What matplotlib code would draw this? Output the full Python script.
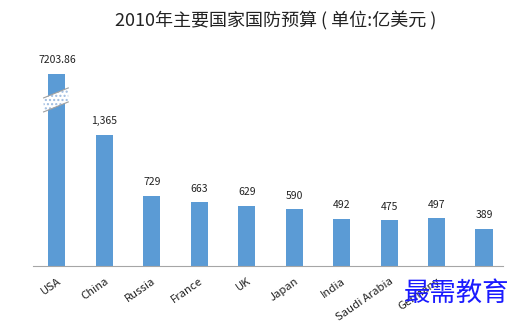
import matplotlib
matplotlib.use("Agg")
import matplotlib.pyplot as plt
from matplotlib.patches import Polygon

plt.rcParams['font.family'] = ['Noto Sans CJK SC', 'DejaVu Sans']

countries = ["USA", "China", "Russia", "France", "UK", "Japan", "India", "Saudi Arabia", "Germany", ""]
values = [7203.86, 1365, 729, 663, 629, 590, 492, 475, 497, 389]
labels = ["7203.86", "1,365", "729", "663", "629", "590", "492", "475", "497", "389"]
display_cap = 2000  # USA bar is drawn broken at this height

fig = plt.figure(figsize=(5.30, 3.26), dpi=100)
ax = fig.add_axes([0.062, 0.184, 0.887, 0.663])

heights = [min(v, display_cap) for v in values]
x = list(range(len(values)))
bars = ax.bar(x, heights, width=0.36, color="#5b9bd5", zorder=2)

for xi, h, lab in zip(x, heights, labels):
    ax.text(xi, h + 90, lab, ha="center", va="bottom", fontsize=7.5, color="#222222")

# break mark on the USA bar
b = bars[0]
x0, w = b.get_x(), b.get_width()
xl, xr = x0 - 0.1, x0 + w + 0.06
yl, yr, hh = 1604, 1708, 146
plt.rcParams['hatch.color'] = "#9dbbe0"
poly = Polygon([[xl, yl], [xr, yr], [xr, yr + hh], [xl, yl + hh]],
               closed=True, facecolor="white", edgecolor="#9dbbe0", hatch="....", linewidth=0, zorder=3)
ax.add_patch(poly)
ax.plot([xl, xr], [yl, yr], color="#a0a0a0", lw=0.8, zorder=4)
ax.plot([xl, xr], [yl + hh, yr + hh], color="#a0a0a0", lw=0.8, zorder=4)

ax.set_xlim(-0.506, 9.4)
ax.set_ylim(0, 2250)
for s in ["top", "right", "left"]:
    ax.spines[s].set_visible(False)
ax.spines["bottom"].set_color("#a6a6a6")
ax.set_yticks([])
ax.set_xticks(x)
ax.set_xticklabels(countries, rotation=35, ha="right", rotation_mode="anchor", fontsize=8.2, color="#222222")
ax.tick_params(axis="x", length=0, pad=7)

fig.text(0.521, 0.935, "2010年主要国家国防预算 ( 单位:亿美元 )", ha="center", va="center", fontsize=13, color="#222222")
fig.text(0.862, 0.10, "最需教育", ha="center", va="center", fontsize=19, color="#1a1aff")

fig.savefig("out.png", dpi=100)
